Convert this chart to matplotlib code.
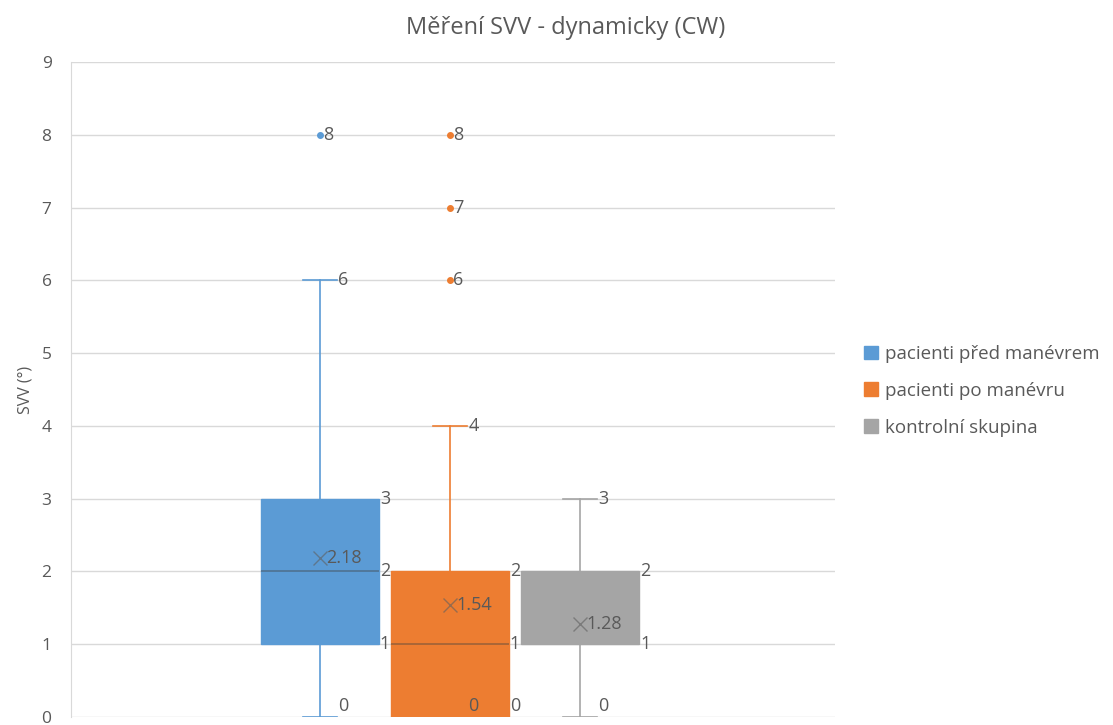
import matplotlib.pyplot as plt
from matplotlib.patches import Patch

# souhrnné statistiky pro každou skupinu
skupiny = ['pacienti před manévrem', 'pacienti po manévru', 'kontrolní skupina']
barvy = ['#5B9BD5', '#ED7D31', '#A5A5A5']
minima = [0, 0, 0]
q1 = [1, 0, 1]
medians = [2, 1, 1]
q3 = [3, 2, 2]
maxima = [6, 4, 3]
means = [2.18, 1.54, 1.28]
outliers = [[8], [6, 7, 8], []]

pozice = [-1, 0, 1]
sirka = 0.91
seda = '#595959'
fs = 13


def y_popisku(v):
    # Excel posune popisky u nuly nad osu
    return v + 0.15 if v == 0 else v


plt.rcParams['font.family'] = ['Open Sans', 'DejaVu Sans']

fig = plt.figure(figsize=(11.13, 7.25), dpi=100)
ax = fig.add_axes([0.0638, 0.011, 0.6864, 0.9035])

for i in range(3):
    stats = [dict(med=medians[i], q1=q1[i], q3=q3[i], whislo=minima[i],
                  whishi=maxima[i], fliers=outliers[i], mean=means[i])]
    c = barvy[i]
    # medián splývající s okrajem krabice se v Excelu nezvýrazní
    med_alpha = 0.0 if medians[i] == q1[i] and i == 2 else 0.45
    ax.bxp(stats, positions=[pozice[i]], widths=sirka, capwidths=0.26,
           patch_artist=True, showmeans=True, showcaps=True,
           boxprops=dict(facecolor=c, edgecolor=c, linewidth=1),
           whiskerprops=dict(color=c, linewidth=1.2),
           capprops=dict(color=c, linewidth=1.2),
           medianprops=dict(color='#404040', alpha=med_alpha, linewidth=1.2),
           meanprops=dict(marker='x', markeredgecolor='#606060', markersize=10,
                          markeredgewidth=1, alpha=0.6),
           flierprops=dict(marker='o', markerfacecolor=c, markeredgecolor=c,
                           markersize=4),
           zorder=3)

    # popisky hodnot
    x = pozice[i]
    pravy = x + sirka / 2 + 0.005
    for v in sorted(set([q1[i], medians[i], q3[i]])):
        ax.text(pravy, y_popisku(v), f'{v}', color=seda, fontsize=fs,
                va='center', ha='left', zorder=5)
    ax.text(x + 0.14, maxima[i], f'{maxima[i]}', color=seda, fontsize=fs,
            va='center', ha='left', zorder=5)
    ax.text(x + 0.14, y_popisku(minima[i]), f'{minima[i]}', color=seda, fontsize=fs,
            va='center', ha='left', zorder=5)
    ax.text(x + 0.05, means[i], f'{means[i]:.2f}', color=seda, fontsize=fs,
            va='center', ha='left', zorder=5)
    for o in outliers[i]:
        ax.text(x + 0.02, o, f'{o}', color=seda, fontsize=fs,
                va='center', ha='left', zorder=5)

ax.set_xlim(-2.915, 2.96)
ax.set_ylim(0, 9)
ax.set_yticks(range(10))
ax.set_xticks([])
ax.yaxis.grid(True, color='#D9D9D9', linewidth=1)
ax.set_axisbelow(True)
for s in ['top', 'right', 'bottom']:
    ax.spines[s].set_visible(False)
ax.spines['left'].set_color('#D9D9D9')
ax.tick_params(axis='y', length=0, pad=14, labelsize=12.5, labelcolor=seda)
ax.set_ylabel('SVV (°)', color=seda, fontsize=11.5, labelpad=6)

fig.text(0.508, 0.962, 'Měření SVV - dynamicky (CW)', ha='center', va='center',
         fontsize=17, color=seda)

handles = [Patch(facecolor=c, edgecolor=c) for c in barvy]
fig.legend(handles, skupiny, loc='center left', bbox_to_anchor=(0.761, 0.461),
           frameon=False, fontsize=13.5, labelcolor=seda, handlelength=0.75,
           handleheight=0.75, handletextpad=0.4, labelspacing=1.0)

fig.savefig('out.png', dpi=100)
